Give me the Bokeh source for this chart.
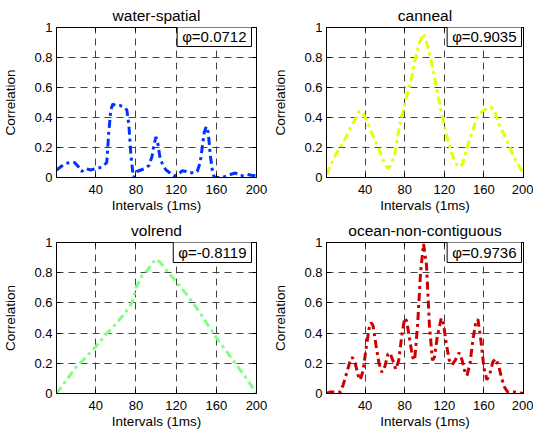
from bokeh.plotting import figure
from bokeh.models import FixedTicker, NumeralTickFormatter, Label, LinearAxis, CustomJSTickFormatter
from bokeh.layouts import column, row
from bokeh.embed import file_html
from bokeh.resources import INLINE

# ---------------- data ----------------
titles = ["water-spatial", "canneal", "volrend", "ocean-non-contiguous"]
phi_labels = ["\u03c6=0.0712", "\u03c6=0.9035", "\u03c6=-0.8119", "\u03c6=0.9736"]
colors = ["#0033ff", "#e5ff00", "#80ff80", "#cc0000"]

x_ticks = [40, 80, 120, 160, 200]
y_ticks = [0, 0.2, 0.4, 0.6, 0.8, 1.0]

ws_x = [1, 5, 9, 14, 19, 23, 26, 30, 35, 40, 44, 48, 51, 53, 55, 57, 60, 64, 68, 71, 73, 75, 77, 78, 81, 85, 89, 93, 96, 98, 100, 102, 104, 107, 110, 114, 118, 122, 126, 130, 134, 138, 141, 144, 146, 148, 150, 152, 154, 156, 158, 162, 166, 170, 174, 179, 184, 188, 191, 195, 200]
ws_y = [0.05, 0.07, 0.09, 0.1, 0.1, 0.07, 0.04, 0.06, 0.05, 0.06, 0.065, 0.08, 0.1, 0.3, 0.45, 0.49, 0.48, 0.48, 0.47, 0.45, 0.35, 0.15, 0.03, 0.0, 0.04, 0.05, 0.06, 0.08, 0.14, 0.22, 0.27, 0.22, 0.13, 0.08, 0.05, 0.03, 0.01, 0.02, 0.045, 0.04, 0.03, 0.035, 0.04, 0.1, 0.2, 0.3, 0.34, 0.3, 0.15, 0.05, 0.0, 0.0, 0.0, 0.01, 0.02, 0.03, 0.01, 0.015, 0.02, 0.015, 0.01]

cn_x = [1, 5, 10, 15, 20, 25, 30, 34, 37, 41, 45, 50, 55, 60, 63, 66, 70, 73, 77, 82, 87, 91, 95, 99, 103, 108, 113, 118, 123, 128, 132, 136, 139, 143, 148, 153, 158, 163, 167, 171, 175, 180, 185, 190, 195, 200]
cn_y = [0.02, 0.08, 0.15, 0.2, 0.26, 0.33, 0.39, 0.44, 0.44, 0.39, 0.32, 0.25, 0.17, 0.09, 0.06, 0.08, 0.16, 0.28, 0.41, 0.54, 0.67, 0.8, 0.9, 0.96, 0.88, 0.74, 0.57, 0.4, 0.26, 0.15, 0.09, 0.07, 0.1, 0.2, 0.3, 0.4, 0.44, 0.46, 0.47, 0.44, 0.36, 0.29, 0.22, 0.14, 0.08, 0.03]

vr_x = [1, 10, 20, 30, 40, 50, 60, 70, 76, 80, 86, 92, 96, 100, 104, 110, 115, 120, 130, 140, 150, 160, 170, 180, 190, 200]
vr_y = [0.0, 0.08, 0.17, 0.24, 0.31, 0.39, 0.46, 0.54, 0.6, 0.7, 0.78, 0.82, 0.86, 0.89, 0.87, 0.82, 0.78, 0.74, 0.66, 0.57, 0.47, 0.37, 0.28, 0.19, 0.1, 0.0]

oc_x = [1, 5, 10, 15, 18, 22, 25, 27, 30, 33, 35, 38, 41, 44, 46, 48, 51, 54, 57, 60, 63, 65, 68, 71, 74, 77, 80, 82, 85, 88, 90, 93, 96, 99, 102, 105, 108, 110, 113, 117, 119, 122, 125, 128, 131, 135, 138, 141, 143, 146, 149, 152, 154, 157, 160, 163, 166, 169, 172, 175, 178, 181, 184, 190, 200]
oc_y = [0.0, 0.01, 0.01, 0.01, 0.06, 0.15, 0.22, 0.24, 0.2, 0.12, 0.09, 0.15, 0.3, 0.43, 0.47, 0.45, 0.32, 0.2, 0.14, 0.18, 0.26, 0.27, 0.22, 0.16, 0.22, 0.38, 0.5, 0.48, 0.36, 0.24, 0.22, 0.45, 0.8, 0.99, 0.85, 0.45, 0.22, 0.24, 0.38, 0.5, 0.47, 0.33, 0.22, 0.19, 0.22, 0.27, 0.22, 0.14, 0.12, 0.2, 0.36, 0.48, 0.49, 0.35, 0.17, 0.09, 0.13, 0.21, 0.23, 0.18, 0.1, 0.04, 0.01, 0.01, 0.0]

series = [(ws_x, ws_y), (cn_x, cn_y), (vr_x, vr_y), (oc_x, oc_y)]

FONT = "Liberation Sans"


def make_plot(i, width, height, bl, br, bt, bb):
    p = figure(width=width, height=height, x_range=(1, 200), y_range=(0, 1),
               output_backend="svg", toolbar_location=None,
               min_border_left=bl, min_border_right=br,
               min_border_top=bt, min_border_bottom=bb)
    p.background_fill_color = "white"
    p.border_fill_color = "white"
    p.outline_line_color = "black"
    p.outline_line_width = 1

    p.title.text = titles[i]
    p.title.align = "center"
    p.title.text_font = FONT
    p.title.text_font_size = "15.5px"
    p.title.text_font_style = "normal"
    p.title.text_color = "black"
    p.title.standoff = 8

    xt = FixedTicker(ticks=x_ticks)
    yt = FixedTicker(ticks=y_ticks)
    p.xaxis.ticker = xt
    p.yaxis.ticker = yt
    p.yaxis.formatter = NumeralTickFormatter(format="0.[0]")
    p.xgrid.ticker = xt
    p.ygrid.ticker = yt
    for g in (p.xgrid, p.ygrid):
        g.grid_line_color = "#444444"
        g.grid_line_dash = "7 5"
        g.grid_line_width = 1

    for ax in (p.xaxis, p.yaxis):
        ax.major_tick_in = 4
        ax.major_tick_out = 0
        ax.minor_tick_line_color = None
        ax.axis_line_color = "black"
        ax.major_tick_line_color = "black"
        ax.major_label_text_font = FONT
        ax.major_label_text_font_size = "13px"
        ax.major_label_text_color = "black"
        ax.axis_label_text_font = FONT
        ax.axis_label_text_font_size = "13.5px"
        ax.axis_label_text_font_style = "normal"
        ax.axis_label_text_color = "black"

    p.xaxis.axis_label = "Intervals (1ms)"
    p.yaxis.axis_label = "Correlation"
    p.xaxis.major_label_standoff = 7
    p.xaxis.axis_label_standoff = 1
    p.yaxis.major_label_standoff = 4
    p.yaxis.axis_label_standoff = 13

    # top and right ticks (box style)
    empty = CustomJSTickFormatter(code="return ''")
    top = LinearAxis(ticker=xt, formatter=empty, major_tick_in=4, major_tick_out=0,
                     minor_tick_line_color=None, major_label_text_font_size="0px",
                     major_label_standoff=0, axis_line_color="black")
    right = LinearAxis(ticker=yt, formatter=empty, major_tick_in=4, major_tick_out=0,
                       minor_tick_line_color=None, major_label_text_font_size="0px",
                       major_label_standoff=0, axis_line_color="black")
    p.add_layout(top, "above")
    p.add_layout(right, "right")

    xs, ys = series[i]
    p.line(xs, ys, line_color=colors[i], line_width=3, line_dash="8 4 3 4")

    lab = Label(x=195, y=152, x_units="screen", y_units="screen",
                text=phi_labels[i], text_align="right", text_baseline="top",
                text_font=FONT, text_font_size="15px", text_color="black",
                background_fill_color="white", border_line_color="black",
                border_line_width=1,
                padding=dict(left=5, right=5, top=2, bottom=2))
    p.add_layout(lab)
    return p


p1 = make_plot(0, 270, 215, 54, 14, 25, 37)
p2 = make_plot(1, 263, 215, 51, 10, 25, 37)
p3 = make_plot(2, 270, 222, 54, 14, 25, 44)
p4 = make_plot(3, 263, 222, 51, 10, 25, 44)

layout = column(row(p1, p2), row(p3, p4))
open("out.html", "w").write(file_html(layout, INLINE))
